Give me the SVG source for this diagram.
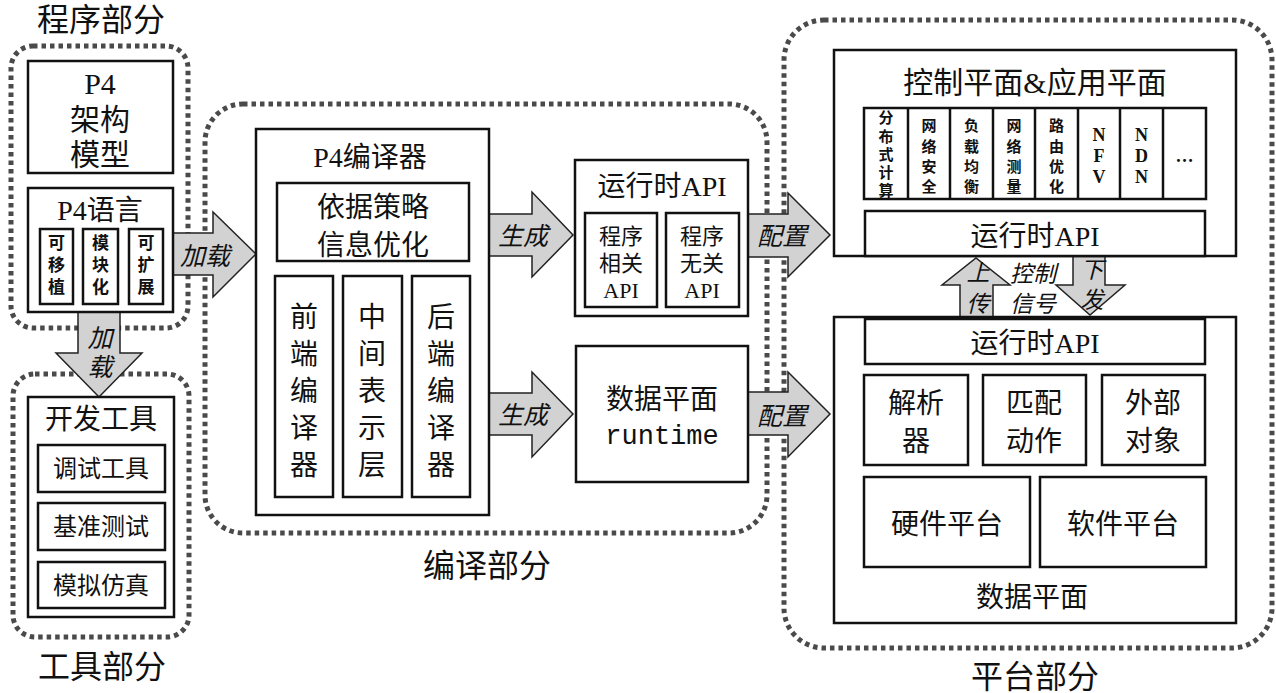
<svg xmlns="http://www.w3.org/2000/svg" width="1276" height="693" viewBox="0 0 1276 693">
<style>
.dot{fill:none;stroke:#4a4a4a;stroke-width:5;stroke-dasharray:4.5 4}
.box{fill:#fff;stroke:#111;stroke-width:2.5}
.arr{fill:#d2d2d2;stroke:#222;stroke-width:1.5}
text{font-family:"Liberation Serif","Noto Sans CJK SC",serif;fill:#111;text-anchor:middle;dominant-baseline:central}
.t32{font-size:32px}
.t30{font-size:30px}
.t28{font-size:28px}
.t24{font-size:24px}
.t22{font-size:22px}
.sm{font-size:17px;font-weight:bold}
.app{font-size:15px;font-weight:bold}
.lat{font-size:18px;font-weight:bold}
.it{font-style:italic;font-size:25px}
.it2{font-style:italic;font-size:23px}
.mono{font-family:"Liberation Mono",monospace;font-size:27px}
</style>

<g id="containers">
<rect class="dot" x="11" y="46" width="177" height="282" rx="22"/>
<rect class="dot" x="13" y="374" width="176" height="263" rx="22"/>
<rect class="dot" x="205" y="104" width="562" height="429" rx="38"/>
<rect class="dot" x="784" y="20" width="488" height="628" rx="40"/>
<text class="t32" x="101" y="20">程序部分</text>
<text class="t32" x="102" y="667">工具部分</text>
<text class="t32" x="487" y="566">编译部分</text>
<text class="t32" x="1035" y="677">平台部分</text>
</g>

<g id="connectors">
<polygon class="arr" points="173,233 213,233 213,212 256,254 213,297 213,275 173,275"/>
<text class="it" x="205" y="256">加载</text>
<polygon class="arr" points="78,312 120,312 120,353 142,353 99,397 56,353 78,353"/>
<text class="it" x="100" y="338">加</text>
<text class="it" x="100" y="367">载</text>
<polygon class="arr" points="489,214 532,214 532,192 573,235 532,277 532,256 489,256"/>
<text class="it" x="523" y="236">生成</text>
<polygon class="arr" points="489,393 532,393 532,372 573,414 532,457 532,435 489,435"/>
<text class="it" x="523" y="415">生成</text>
<polygon class="arr" points="748,214 788,214 788,193 830,235 788,277 788,257 748,257"/>
<text class="it" x="782" y="236">配置</text>
<polygon class="arr" points="748,392 788,392 788,372 830,414 788,457 788,435 748,435"/>
<text class="it" x="782" y="416">配置</text>
<polygon class="arr" points="960,317 960,285 942,285 976,258 1010,285 993,285 993,317"/>
<text class="it2" x="978" y="273">上</text>
<text class="it2" x="978" y="304">传</text>
<polygon class="arr" points="1073,256 1105,256 1105,285 1125,285 1090,315 1056,285 1073,285"/>
<text class="it2" x="1092" y="270">下</text>
<text class="it2" x="1092" y="300">发</text>
<text class="it2" x="1033" y="274">控制</text>
<text class="it2" x="1033" y="304">信号</text>
</g>

<g id="p4-arch">
<rect class="box" x="28" y="61" width="145" height="112"/>
<text class="t30" x="100" y="83">P4</text>
<text class="t30" x="100" y="119">架构</text>
<text class="t30" x="100" y="154">模型</text>
</g>

<g id="p4-lang">
<rect class="box" x="28" y="188" width="145" height="124"/>
<text class="t28" x="100" y="210">P4语言</text>
<rect class="box" x="40" y="229" width="33" height="75"/>
<rect class="box" x="83" y="229" width="35" height="75"/>
<rect class="box" x="129" y="229" width="34" height="75"/>
<text class="sm" x="56.5" y="243">可</text><text class="sm" x="56.5" y="265">移</text><text class="sm" x="56.5" y="287">植</text>
<text class="sm" x="100.5" y="243">模</text><text class="sm" x="100.5" y="265">块</text><text class="sm" x="100.5" y="287">化</text>
<text class="sm" x="146" y="243">可</text><text class="sm" x="146" y="265">扩</text><text class="sm" x="146" y="287">展</text>
</g>

<g id="dev-tools">
<rect class="box" x="28" y="397" width="146" height="220"/>
<text class="t28" x="101" y="419">开发工具</text>
<rect class="box" x="38" y="445" width="127" height="47"/>
<text class="t24" x="101" y="469">调试工具</text>
<rect class="box" x="38" y="503" width="127" height="47"/>
<text class="t24" x="101" y="527">基准测试</text>
<rect class="box" x="38" y="562" width="127" height="46"/>
<text class="t24" x="101" y="586">模拟仿真</text>
</g>

<g id="p4-compiler">
<rect class="box" x="256" y="129" width="233" height="386"/>
<text class="t28" x="370" y="157">P4编译器</text>
<rect class="box" x="277" y="183" width="192" height="78"/>
<text class="t28" x="373" y="207">依据策略</text>
<text class="t28" x="373" y="245">信息优化</text>
<rect class="box" x="275" y="276" width="58" height="221"/>
<rect class="box" x="343" y="276" width="59" height="221"/>
<rect class="box" x="412" y="276" width="58" height="221"/>
<text class="t28" x="304" y="317">前</text><text class="t28" x="304" y="354">端</text><text class="t28" x="304" y="391">编</text><text class="t28" x="304" y="428">译</text><text class="t28" x="304" y="465">器</text>
<text class="t28" x="372" y="317">中</text><text class="t28" x="372" y="354">间</text><text class="t28" x="372" y="391">表</text><text class="t28" x="372" y="428">示</text><text class="t28" x="372" y="465">层</text>
<text class="t28" x="441" y="317">后</text><text class="t28" x="441" y="354">端</text><text class="t28" x="441" y="391">编</text><text class="t28" x="441" y="428">译</text><text class="t28" x="441" y="465">器</text>
</g>

<g id="runtime-api">
<rect class="box" x="575" y="160" width="173" height="156"/>
<text class="t28" x="662" y="186">运行时API</text>
<rect class="box" x="585" y="213" width="72" height="94"/>
<rect class="box" x="666" y="213" width="73" height="94"/>
<text class="t22" x="621" y="236">程序</text><text class="t22" x="621" y="263">相关</text><text class="t22" x="621" y="290">API</text>
<text class="t22" x="702" y="236">程序</text><text class="t22" x="702" y="263">无关</text><text class="t22" x="702" y="290">API</text>
</g>

<g id="dp-runtime">
<rect class="box" x="576" y="346" width="172" height="136"/>
<text class="t28" x="662" y="399">数据平面</text>
<text class="mono" x="662" y="437">runtime</text>
</g>

<g id="control-plane">
<rect class="box" x="834" y="50" width="402" height="206"/>
<text class="t30" x="1035" y="82">控制平面&amp;应用平面</text>
<rect class="box" x="864" y="108" width="342" height="91"/>
<line x1="908" y1="108" x2="908" y2="199" stroke="#111" stroke-width="2.5"/>
<line x1="950" y1="108" x2="950" y2="199" stroke="#111" stroke-width="2.5"/>
<line x1="993" y1="108" x2="993" y2="199" stroke="#111" stroke-width="2.5"/>
<line x1="1035" y1="108" x2="1035" y2="199" stroke="#111" stroke-width="2.5"/>
<line x1="1078" y1="108" x2="1078" y2="199" stroke="#111" stroke-width="2.5"/>
<line x1="1120" y1="108" x2="1120" y2="199" stroke="#111" stroke-width="2.5"/>
<line x1="1163" y1="108" x2="1163" y2="199" stroke="#111" stroke-width="2.5"/>
<text class="app" x="886" y="118">分</text><text class="app" x="886" y="137">布</text><text class="app" x="886" y="155">式</text><text class="app" x="886" y="173">计</text><text class="app" x="886" y="191">算</text>
<text class="app" x="929" y="126">网</text><text class="app" x="929" y="147">络</text><text class="app" x="929" y="167">安</text><text class="app" x="929" y="187">全</text>
<text class="app" x="971.5" y="126">负</text><text class="app" x="971.5" y="147">载</text><text class="app" x="971.5" y="167">均</text><text class="app" x="971.5" y="187">衡</text>
<text class="app" x="1014" y="126">网</text><text class="app" x="1014" y="147">络</text><text class="app" x="1014" y="167">测</text><text class="app" x="1014" y="187">量</text>
<text class="app" x="1056.5" y="126">路</text><text class="app" x="1056.5" y="147">由</text><text class="app" x="1056.5" y="167">优</text><text class="app" x="1056.5" y="187">化</text>
<text class="lat" x="1099" y="135">N</text><text class="lat" x="1099" y="156">F</text><text class="lat" x="1099" y="177">V</text>
<text class="lat" x="1141.5" y="135">N</text><text class="lat" x="1141.5" y="156">D</text><text class="lat" x="1141.5" y="177">N</text>
<text class="lat" x="1184.5" y="156">…</text>
<rect class="box" x="865" y="211" width="340" height="45"/>
<text class="t28" x="1035" y="236">运行时API</text>
</g>

<g id="data-plane">
<rect class="box" x="834" y="317" width="402" height="306"/>
<rect class="box" x="865" y="319" width="340" height="45"/>
<text class="t28" x="1035" y="343">运行时API</text>
<rect class="box" x="864" y="375" width="104" height="90"/>
<text class="t28" x="916" y="403">解析</text><text class="t28" x="916" y="441">器</text>
<rect class="box" x="983" y="375" width="103" height="90"/>
<text class="t28" x="1034" y="403">匹配</text><text class="t28" x="1034" y="441">动作</text>
<rect class="box" x="1102" y="375" width="103" height="90"/>
<text class="t28" x="1153" y="403">外部</text><text class="t28" x="1153" y="441">对象</text>
<rect class="box" x="864" y="477" width="166" height="90"/>
<text class="t28" x="947" y="524">硬件平台</text>
<rect class="box" x="1040" y="477" width="166" height="90"/>
<text class="t28" x="1123" y="524">软件平台</text>
<text class="t28" x="1032" y="597">数据平面</text>
</g>
</svg>
